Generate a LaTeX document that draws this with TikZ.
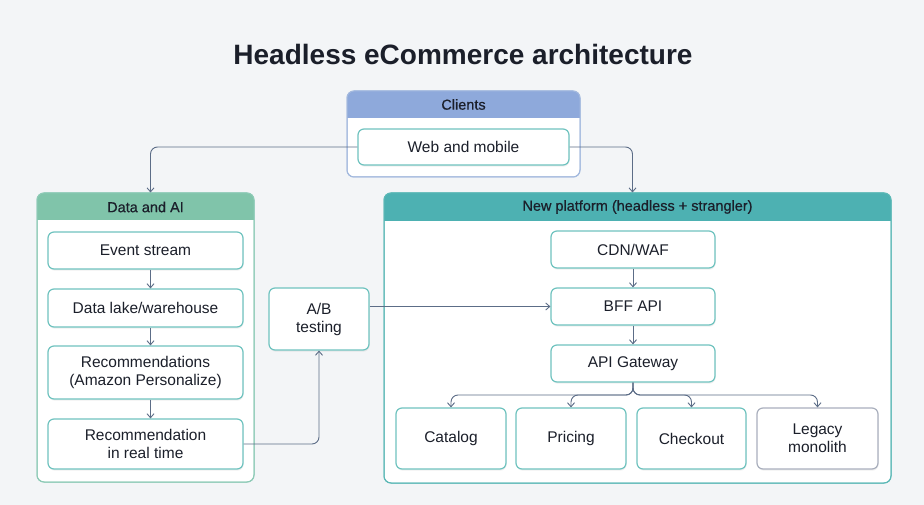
\documentclass[tikz,border=0pt]{standalone}
\usepackage{fontspec}
\setmainfont{Liberation Sans}
\newfontfamily\medfont[FakeBold=0.6]{Liberation Sans}
\usetikzlibrary{arrows.meta,shadows,calc}
\definecolor{bgc}{HTML}{F3F5F7}
\definecolor{txt}{HTML}{1B1F2A}
\definecolor{arrc}{HTML}{5C6D87}
\definecolor{clhdr}{HTML}{8EA9DB}
\definecolor{clbrd}{HTML}{A3B9DE}
\definecolor{dahdr}{HTML}{80C4AA}
\definecolor{dabrd}{HTML}{8DCAB6}
\definecolor{nphdr}{HTML}{4DB1B2}
\definecolor{npbrd}{HTML}{5BB8B6}
\definecolor{nodebrd}{HTML}{6FC3BF}
\definecolor{legbrd}{HTML}{A9AFBD}
\tikzset{
  container/.style={draw=#1, line width=1pt, rounded corners=7pt, fill=white},
  hdrtext/.style={text=txt, font=\medfont\fontsize{14.5}{16}\selectfont},
  box/.style={draw=nodebrd, line width=1.2pt, rounded corners=6pt, fill=white,
    text=txt, align=center, font=\fontsize{15.5}{18}\selectfont, inner sep=0pt,
    drop shadow={opacity=0.12, shadow xshift=0.6pt, shadow yshift=-1.6pt}},
  arr/.style={draw=arrc, line width=0.9pt, -{Straight Barb[length=4pt,width=7pt]}, rounded corners=7pt},
}
\newcommand{\boxat}[6]{% name, x1,y1,x2,y2, text
  \node[box, minimum width={(#4-#2)*1pt}, minimum height={(#5-#3)*1pt}] (#1) at ({(#2+#4)/2},{(#3+#5)/2}) {#6};}
\newcommand{\contat}[8]{% name, x1,y1,x2,y2, hdr bottom y, hdr colour, border colour
  \node[container=#8, minimum width={(#4-#2)*1pt}, minimum height={(#5-#3)*1pt}, inner sep=0pt] (#1) at ({(#2+#4)/2},{(#3+#5)/2}) {};
  \begin{scope}
    \clip[rounded corners=7pt] (#2,#3) rectangle (#4,#5);
    \fill[#7] (#2,#3) rectangle (#4,#6);
  \end{scope}
  \draw[#8, line width=1pt, rounded corners=7pt] (#2,#3) rectangle (#4,#5);}
\begin{document}
\begin{tikzpicture}[x=1pt,y=-1pt]
\useasboundingbox (0,0) rectangle (924,505);
\fill[bgc] (0,0) rectangle (924,505);

\node[text=txt, font=\bfseries\fontsize{28}{32}\selectfont] (title) at (463,54) {Headless eCommerce architecture};

% Clients
\contat{clients}{347}{91}{580}{177}{118}{clhdr}{clbrd}
\node[hdrtext] (clientsh) at (463.5,104.5) {Clients};
\boxat{web}{358}{129}{569}{165}{Web and mobile}

% Data and AI
\contat{data}{37}{193}{254}{482}{220}{dahdr}{dabrd}
\node[hdrtext] (datah) at (145.5,207) {Data and AI};
\boxat{ev}{48}{232}{243}{269}{Event stream}
\boxat{lake}{48}{289}{243}{327}{Data lake/warehouse}
\boxat{rec}{48}{346}{243}{399}{Recommendations\\(Amazon Personalize)}
\boxat{rt}{48}{419}{243}{469}{Recommendation\\in real time}

% A/B
\boxat{ab}{269}{288}{369}{350}{A/B\\testing}

% New platform
\contat{np}{384}{193}{891}{483}{221}{nphdr}{npbrd}
\node[hdrtext] (nph) at (637.5,207) {New platform (headless + strangler)};
\boxat{cdn}{551}{231}{715}{268}{CDN/WAF}
\boxat{bff}{551}{288}{715}{325}{BFF API}
\boxat{gw}{551}{345}{715}{382}{API Gateway}
\boxat{cat}{396}{408}{506}{469}{Catalog}
\boxat{pri}{516}{408}{626}{469}{Pricing}
\boxat{chk}{637}{408}{746}{469}{Checkout}
\begin{scope}[box/.append style={draw=legbrd}]
\boxat{leg}{757}{408}{878}{469}{Legacy\\monolith}
\end{scope}

% connectors
\draw[arr] (web.west) -| ([xshift=5pt]data.north);
\draw[arr] (web.east) -| ([xshift=-5pt]np.north);
\draw[arr] ([xshift=5pt]ev.south) -- ([xshift=5pt]lake.north);
\draw[arr] ([xshift=5pt]lake.south) -- ([xshift=5pt]rec.north);
\draw[arr] ([xshift=5pt]rec.south) -- ([xshift=5pt]rt.north);
\draw[arr] (rt.east) -| (ab.south);
\draw[arr] (ab.east |- bff.west) -- (bff.west);
\draw[arr] (cdn) -- (bff);
\draw[arr] (bff) -- (gw);
\coordinate (j) at (633,395);
\draw[arr] (gw.south) -- (j) -| (cat.north);
\draw[arr] (gw.south) -- (j) -| (pri.north);
\draw[arr] (gw.south) -- (j) -| (chk.north);
\draw[arr] (gw.south) -- (j) -| (leg.north);
\end{tikzpicture}
\end{document}
